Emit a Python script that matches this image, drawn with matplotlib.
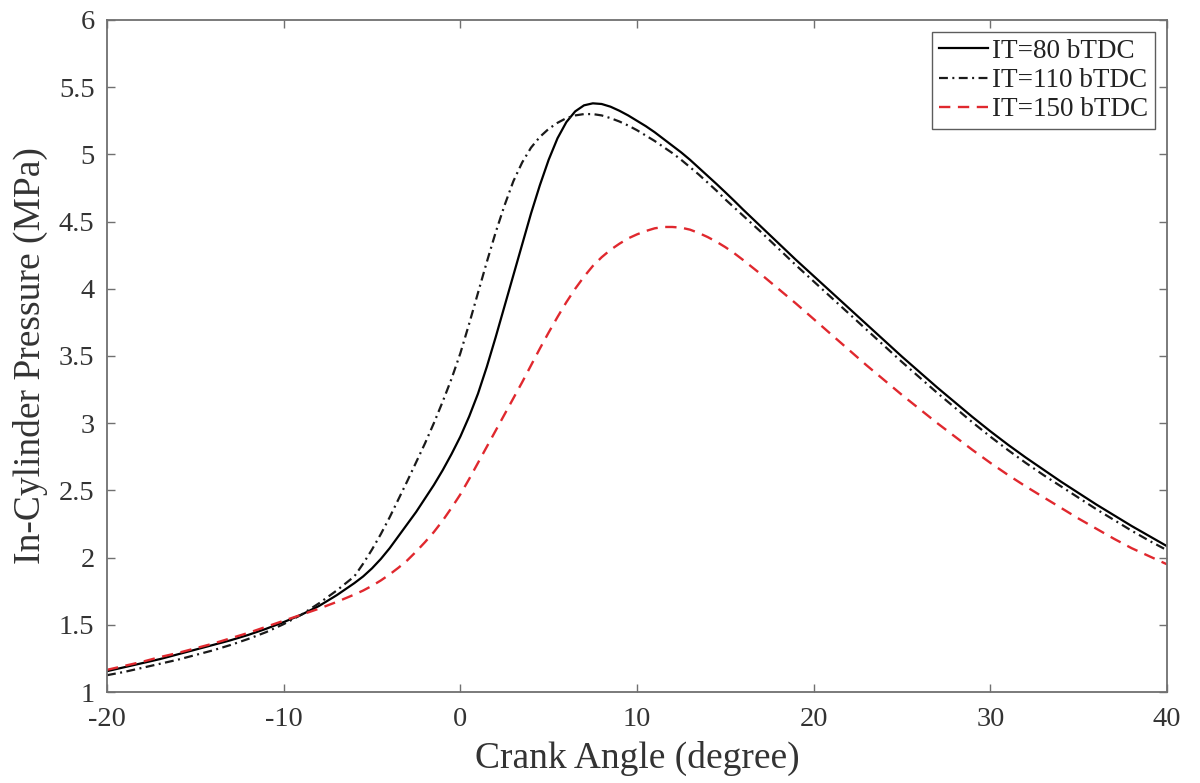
import matplotlib
matplotlib.use("Agg")
import matplotlib.pyplot as plt

crank_angle = ([-20, -19, -18, -17, -16, -15, -14, -13, -12, -11, -10, -9, -8, -7]
               + [-6 + 0.5 * i for i in range(44)]
               + list(range(16, 41)))

p_it80 = [1.155, 1.185, 1.215, 1.245, 1.28, 1.315, 1.35, 1.385, 1.425, 1.47,
          1.52, 1.575, 1.64, 1.72,
          1.81, 1.86, 1.92, 1.99, 2.07, 2.16, 2.25, 2.34, 2.44, 2.54,
          2.65, 2.77, 2.90, 3.05, 3.22, 3.42, 3.64, 3.87, 4.10, 4.33,
          4.56, 4.77, 4.96, 5.12, 5.24, 5.32, 5.365, 5.38, 5.375, 5.355,
          5.325, 5.29, 5.25, 5.21, 5.165, 5.115, 5.065, 5.015, 4.96, 4.90,
          4.84, 4.78, 4.718, 4.655,
          4.59, 4.465, 4.34, 4.215, 4.095, 3.975, 3.855, 3.735, 3.615, 3.495,
          3.38, 3.265, 3.155, 3.045, 2.94, 2.84, 2.745, 2.655, 2.565, 2.48,
          2.395, 2.315, 2.235, 2.16, 2.085]

p_it110 = [1.125, 1.15, 1.18, 1.21, 1.24, 1.275, 1.31, 1.35, 1.395, 1.445,
           1.505, 1.575, 1.66, 1.755,
           1.86, 1.955, 2.06, 2.175, 2.30, 2.435, 2.57, 2.71, 2.85, 3.00,
           3.16, 3.33, 3.52, 3.74, 3.97, 4.20, 4.42, 4.62, 4.80, 4.94,
           5.05, 5.13, 5.19, 5.235, 5.27, 5.29, 5.30, 5.30, 5.29, 5.27,
           5.245, 5.215, 5.18, 5.14, 5.10, 5.055, 5.01, 4.96, 4.905, 4.85,
           4.79, 4.73, 4.665, 4.605,
           4.545, 4.425, 4.30, 4.175, 4.055, 3.935, 3.815, 3.695, 3.575, 3.455,
           3.34, 3.225, 3.115, 3.005, 2.90, 2.80, 2.705, 2.615, 2.53, 2.445,
           2.36, 2.28, 2.20, 2.125, 2.055]

p_it150 = [1.165, 1.195, 1.225, 1.26, 1.29, 1.325, 1.36, 1.40, 1.44, 1.485,
           1.53, 1.575, 1.62, 1.67,
           1.725, 1.755, 1.79, 1.83, 1.875, 1.925, 1.98, 2.045, 2.115, 2.19,
           2.275, 2.37, 2.47, 2.585, 2.705, 2.825, 2.945, 3.065, 3.185, 3.305,
           3.43, 3.555, 3.675, 3.79, 3.90, 4.00, 4.09, 4.17, 4.235, 4.29,
           4.335, 4.375, 4.405, 4.43, 4.45, 4.46, 4.46, 4.455, 4.44, 4.415,
           4.385, 4.35, 4.31, 4.265,
           4.215, 4.11, 4.00, 3.89, 3.775, 3.66, 3.545, 3.43, 3.32, 3.21,
           3.105, 3.00, 2.90, 2.80, 2.705, 2.615, 2.53, 2.45, 2.37, 2.29,
           2.215, 2.14, 2.07, 2.01, 1.95]

labels = ["IT=80 bTDC", "IT=110 bTDC", "IT=150 bTDC"]
x_ticks = [-20, -10, 0, 10, 20, 30, 40]
y_ticks = [1, 1.5, 2, 2.5, 3, 3.5, 4, 4.5, 5, 5.5, 6]
y_tick_labels = ["1", "1.5", "2", "2.5", "3", "3.5", "4", "4.5", "5", "5.5", "6"]

plt.rcParams['font.family'] = ['Liberation Serif', 'DejaVu Serif']

fig = plt.figure(figsize=(12, 7.83), dpi=100)
ax = fig.add_axes([107/1200, 1-692/783, (1167-107)/1200, (692-20)/783])

ax.plot(crank_angle, p_it80, color='black', lw=1.6, linestyle='-', label=labels[0])
ax.plot(crank_angle, p_it110, color='#1a1a1a', lw=1.6,
        linestyle=(0, (4.0, 2.0, 0.9, 2.0)), label=labels[1])
ax.plot(crank_angle, p_it150, color='#e0282e', lw=1.7,
        linestyle=(0, (4.8, 3.2)), label=labels[2])

ax.set_xlim(-20, 40)
ax.set_ylim(1, 6)
ax.set_xticks(x_ticks)
ax.set_xticklabels([str(t) for t in x_ticks])
ax.set_yticks(y_ticks)
ax.set_yticklabels(y_tick_labels)

for sp in ax.spines.values():
    sp.set_color('#707070')
    sp.set_linewidth(1.3)
ax.tick_params(direction='in', length=6, width=1.0, color='#707070',
               top=True, right=True, labelsize=20.5, labelcolor='#333333')
ax.tick_params(axis='x', pad=11)
ax.tick_params(axis='y', pad=9)

ax.set_xlabel("Crank Angle (degree)", fontsize=27, color='#333333', labelpad=6)
ax.set_ylabel("In-Cylinder Pressure (MPa)", fontsize=27, color='#333333', labelpad=8)

leg = ax.legend(loc='upper right', fontsize=19.5, frameon=True, fancybox=False,
                edgecolor='#333333', handlelength=1.8, handletextpad=0.15,
                borderpad=0.25, labelspacing=0.15, borderaxespad=0.45)
leg.get_frame().set_linewidth(1.0)
for t in leg.get_texts():
    t.set_color('#222222')

fig.savefig("out.png", dpi=100, facecolor='white')
